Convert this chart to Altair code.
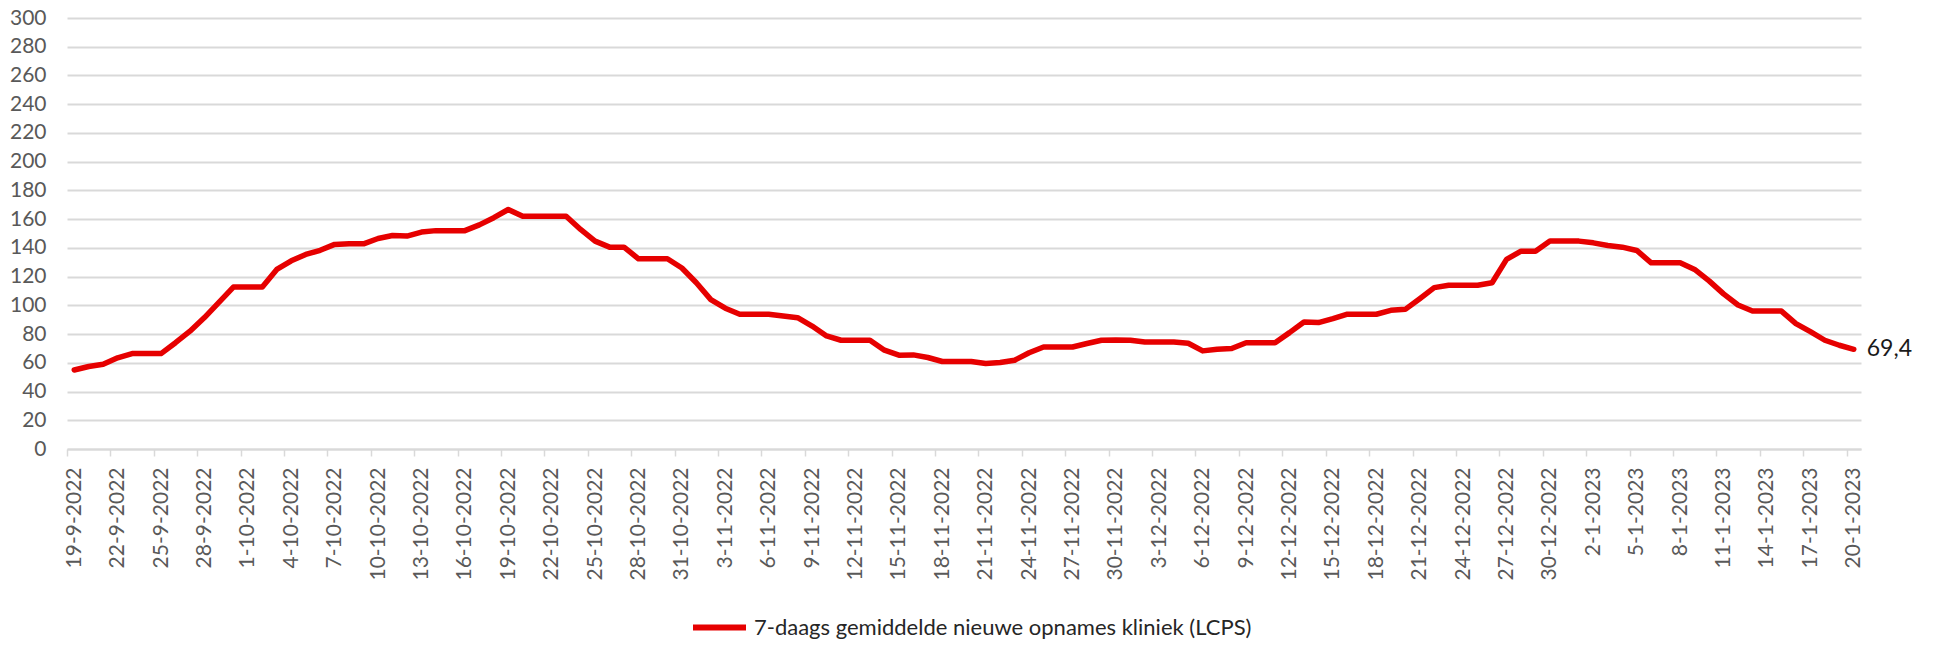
import altair as alt
import pandas as pd

# ---- data -------------------------------------------------------------
start_date = "2022-09-19"
n_days = 124
dates = [f"{d.day}-{d.month}-{d.year}" for d in pd.date_range(start_date, periods=n_days, freq="D")]

values = [
    55.0, 57.4, 59.0, 63.5, 66.4, 66.4, 66.4, 74.0, 82.0, 91.5,
    102.0, 112.7, 112.7, 112.7, 125.0, 131.0, 135.4, 138.3, 142.4, 142.8,
    142.8, 146.5, 148.6, 148.2, 151.0, 152.0, 152.0, 152.0, 156.0, 161.0,
    166.7, 162.0, 162.0, 162.0, 162.0, 152.8, 144.7, 140.5, 140.5, 132.4,
    132.4, 132.4, 126.0, 115.7, 104.0, 98.0, 93.8, 93.8, 93.8, 92.6,
    91.4, 85.6, 78.7, 75.7, 75.7, 75.7, 68.8, 65.3, 65.5, 63.7,
    60.9, 60.9, 60.9, 59.5, 60.2, 61.8, 67.0, 71.0, 71.0, 71.0,
    73.4, 75.7, 75.9, 75.7, 74.5, 74.5, 74.5, 73.6, 68.3, 69.4,
    69.9, 74.0, 74.0, 74.0, 81.0, 88.4, 88.0, 90.7, 93.8, 93.8,
    93.8, 96.5, 97.2, 104.6, 112.3, 114.0, 114.0, 114.0, 115.7, 132.0,
    137.7, 137.7, 144.7, 144.7, 144.7, 143.5, 141.7, 140.5, 138.2, 129.6,
    129.6, 129.6, 125.0, 117.0, 108.0, 100.2, 96.0, 96.0, 96.0, 87.3,
    81.7, 75.7, 72.2, 69.4,
]

series_name = "7-daags gemiddelde nieuwe opnames kliniek (LCPS)"
y_ticks = list(range(0, 301, 20))
x_tick_labels = dates[::3]

df = pd.DataFrame({
    "date": dates,
    "idx": list(range(n_days)),
    "value": values,
    "series": [series_name] * n_days,
})

# ---- styling -----------------------------------------------------------
RED = "#E60000"
GRID = "#D9D9D9"
AXIS_TXT = "#595959"
FONT = "Lato"

W, H = 1794, 431
step = W / n_days

x_enc = alt.X(
    "date:O",
    sort=None,
    scale=alt.Scale(type="point", padding=0.5),
    axis=alt.Axis(
        title=None,
        values=x_tick_labels,
        labelAngle=270,
        labelAlign="right",
        labelBaseline="middle",
        labelOverlap=False,
        labelFlush=False,
        labelFont=FONT,
        labelFontSize=21,
        labelColor=AXIS_TXT,
        labelPadding=11,
        tickOffset=-step / 2,
        labelOffset=step / 2,
        ticks=True,
        tickSize=7,
        tickColor=GRID,
        tickWidth=1.5,
        domain=True,
        domainColor=GRID,
        domainWidth=2,
        grid=False,
    ),
)

y_enc = alt.Y(
    "value:Q",
    scale=alt.Scale(domain=[0, 300], nice=False, zero=True),
    axis=alt.Axis(
        title=None,
        values=y_ticks,
        tickCount=16,
        labelOverlap=False,
        labelBound=False,
        labelFlush=False,
        labelFont=FONT,
        labelFontSize=21,
        labelColor=AXIS_TXT,
        labelPadding=21,
        ticks=False,
        tickSize=0,
        domain=False,
        grid=True,
        gridColor=GRID,
        gridWidth=2,
    ),
)

base = alt.Chart(df).encode(x=x_enc, y=y_enc)

line = base.mark_line(
    strokeWidth=5.5, strokeJoin="round", strokeCap="round"
).encode(
    color=alt.Color(
        "series:N",
        scale=alt.Scale(domain=[series_name], range=[RED]),
        legend=alt.Legend(
            title=None,
            orient="none",
            legendX=623,
            legendY=580,
            direction="horizontal",
            symbolType="stroke",
            symbolSize=2809,
            symbolStrokeWidth=6,
            labelFont=FONT,
            labelFontSize=22,
            labelColor="#262626",
            labelOffset=5,
            padding=0,
            labelLimit=800,
        ),
    ),
)

last_label = base.transform_filter(
    alt.datum.idx == n_days - 1
).transform_calculate(
    lbl="replace(format(datum.value, '.1f'), '.', ',')"
).mark_text(
    align="left", baseline="middle", dx=13, font=FONT, fontSize=23, color="#1a1a1a"
).encode(
    text="lbl:N",
)

chart = alt.layer(line, last_label).properties(
    width=W,
    height=H,
    autosize=alt.AutoSizeParams(type="none"),
    padding={"left": 59, "top": 10, "right": 60, "bottom": 192},
).configure(font=FONT).configure_view(stroke=None)

chart.save("out.html", embed_options={"renderer": "svg", "actions": False})
